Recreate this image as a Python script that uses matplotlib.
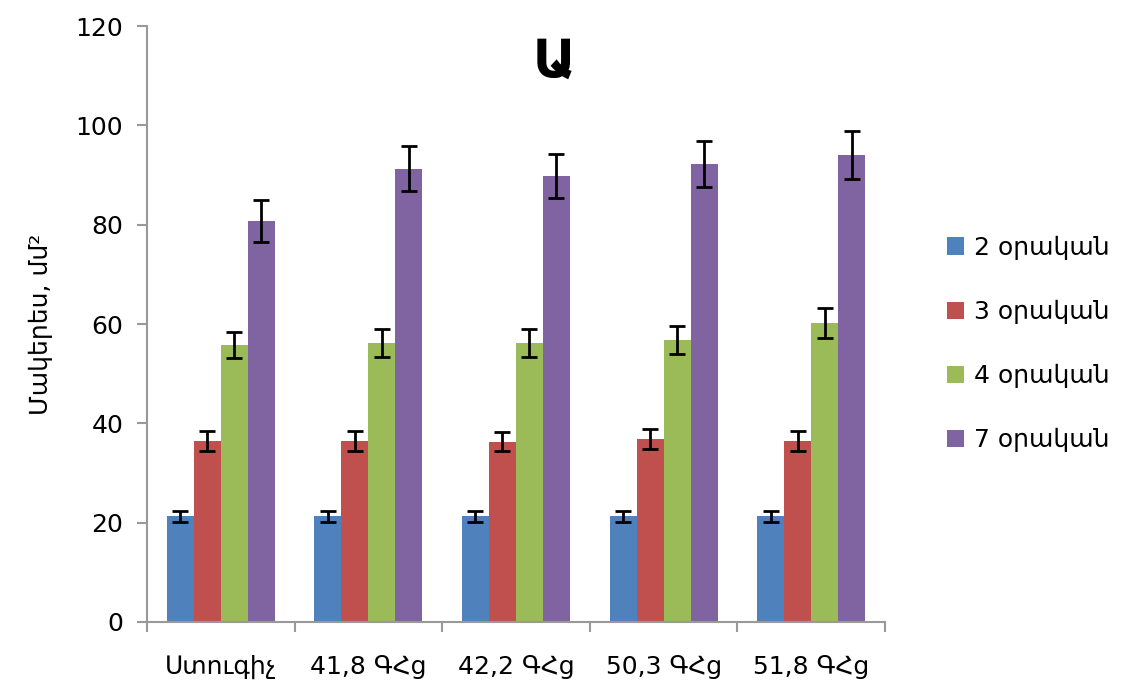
import matplotlib
matplotlib.use("Agg")
import matplotlib.pyplot as plt
import numpy as np

plt.rcParams['font.family'] = ['DejaVu Sans']

categories = ["Ստուգիչ", "41,8 ԳՀց", "42,2 ԳՀց", "50,3 ԳՀց", "51,8 ԳՀց"]
series_names = ["2 օրական", "3 օրական", "4 օրական", "7 օրական"]
day2 = [21.3, 21.3, 21.3, 21.3, 21.3]
day3 = [36.5, 36.5, 36.3, 36.8, 36.5]
day4 = [55.8, 56.2, 56.2, 56.8, 60.2]
day7 = [80.8, 91.3, 89.8, 92.3, 94.0]
err2 = [1.1, 1.1, 1.1, 1.1, 1.1]
err3 = [2.0, 2.0, 1.9, 2.0, 2.0]
err4 = [2.6, 2.8, 2.8, 2.9, 3.0]
err7 = [4.2, 4.5, 4.5, 4.6, 4.8]
colors = ["#4F81BD", "#C0504D", "#9BBB59", "#8064A2"]

values = [day2, day3, day4, day7]
errors = [err2, err3, err4, err7]

fig = plt.figure(figsize=(11.34, 6.88), dpi=100)
ax = fig.add_axes([0.1296, 0.096, 0.6508, 0.866])

x = np.arange(len(categories))
w = 0.183
for i, (vals, errs, c, name) in enumerate(zip(values, errors, colors, series_names)):
    pos = x + (i - 1.5) * w
    ax.bar(pos, vals, width=w, color=c, label=name, zorder=2)
    ax.errorbar(pos, vals, yerr=errs, fmt='none', ecolor='black',
                elinewidth=2, capsize=6, capthick=2, zorder=3)

ax.set_xlim(-0.5, len(categories) - 0.5)
ax.set_ylim(0, 120)
ax.set_yticks(range(0, 121, 20))
ax.set_xticks(x)
ax.set_xticklabels(categories)
ax.set_xticks(np.arange(-0.5, len(categories), 1.0), minor=True)
ax.tick_params(axis='x', which='major', length=0, pad=24, labelsize=18)
ax.tick_params(axis='x', which='minor', length=7, color='#999999', width=1.5)
ax.tick_params(axis='y', length=7, color='#999999', width=1.5, labelsize=18, pad=10)
for s in ['top', 'right']:
    ax.spines[s].set_visible(False)
for s in ['left', 'bottom']:
    ax.spines[s].set_color('#999999')
    ax.spines[s].set_linewidth(1.5)

ax.set_ylabel("Մակերես, մմ²", fontsize=18, labelpad=16)
fig.text(0.489, 0.91, "Ա", fontsize=38, fontweight='bold', ha='center', va='center')

handles, labels = ax.get_legend_handles_labels()
leg = fig.legend(handles, labels, loc='center left', bbox_to_anchor=(0.815, 0.50),
                 frameon=False, fontsize=18, handlelength=0.7, handleheight=0.7,
                 handletextpad=0.4, labelspacing=1.6)

fig.savefig("out.png", dpi=100)
